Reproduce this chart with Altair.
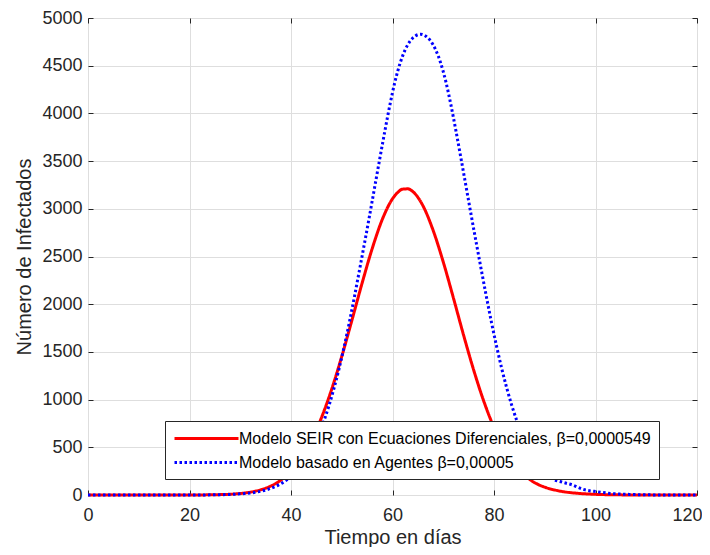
import altair as alt
import pandas as pd

series_names = [
    "Modelo SEIR con Ecuaciones Diferenciales, β=0,0000549",
    "Modelo basado en Agentes β=0,00005",
]

seir_t = [0, 10, 20, 24, 28, 30, 32, 34, 36, 38, 40, 42, 44, 46, 48, 50, 52, 54, 56, 58,
          60, 61, 62, 63, 64, 66, 68, 70, 72, 74, 76, 78, 80, 82, 84, 86, 88, 90, 92, 94,
          96, 98, 100, 104, 110, 120]
seir_v = [0, 0, 0, 2, 8, 16, 30, 54, 93, 156, 250, 385, 569, 810, 1106, 1452, 1831, 2219,
          2583, 2890, 3105, 3170, 3206, 3209, 3181, 3032, 2775, 2443, 2066, 1677, 1309, 981,
          707, 490, 325, 208, 130, 82, 52, 32, 20, 12, 7, 2, 0, 0]

abm_t = [0, 10, 20, 23.5, 27.5, 30.5, 33.5, 35.5, 37.5, 38.5, 39.5, 40.5, 41.5, 42.5, 43.5,
         44.5, 45.5, 46.5, 47.5, 48.5, 49.5, 50.5, 51.5, 52.5, 53.5, 54.5, 55.5, 56.5, 57.5,
         58.5, 59.5, 60.5, 61.5, 62.5, 63.5, 64.5, 65.5, 66.5, 67.5, 68.5, 69.5, 70.5, 71.5,
         72.5, 73.5, 74.5, 75.5, 76.5, 77.5, 78.5, 79.5, 80.5, 81.5, 82.5, 83.5, 84.5, 85.5,
         86.5, 87.5, 88.5, 89.5, 90.5, 91.5, 93.5, 95.5, 97.5, 100.5, 103.5, 107.5, 112, 120]
abm_v = [0, 0, 0, 1, 5, 14, 33, 60, 104, 134, 172, 218, 275, 345, 430, 519, 639, 779, 940,
         1124, 1331, 1561, 1811, 2079, 2359, 2644, 2934, 3231, 3527, 3817, 4092, 4335, 4527,
         4667, 4760, 4812, 4830, 4812, 4760, 4667, 4527, 4335, 4092, 3817, 3527, 3231, 2934,
         2644, 2359, 2079, 1811, 1561, 1331, 1124, 940, 779, 639, 519, 430, 345, 275, 218,
         172, 134, 104, 60, 33, 14, 5, 1, 0]

x_ticks = [0, 20, 40, 60, 80, 100, 120]
y_ticks = list(range(0, 5001, 500))

df = pd.concat([
    pd.DataFrame({"t": seir_t, "v": seir_v, "serie": series_names[0]}),
    pd.DataFrame({"t": abm_t, "v": abm_v, "serie": series_names[1]}),
])

FONT = "Liberation Sans"
INK = "#262626"

xscale = alt.Scale(domain=[0, 120], nice=False, zero=False)
yscale = alt.Scale(domain=[0, 5000], nice=False)

base = alt.Chart(df)

lines = base.mark_line(interpolate="monotone", strokeWidth=3).encode(
    x=alt.X("t:Q", scale=xscale,
            axis=alt.Axis(values=x_ticks, title="Tiempo en días", format="d",
                          orient="bottom", offset=-5, tickSize=5, labelPadding=11,
                          titlePadding=3, grid=True, domain=False, labelFlush=False,
                          labelOffset={"condition": {"test": "datum.value == 120", "value": -10},
                                       "value": 0})),
    y=alt.Y("v:Q", scale=yscale,
            axis=alt.Axis(values=y_ticks, title="Número de Infectados", format="d",
                          orient="left", offset=-5, tickSize=5, labelPadding=6,
                          titlePadding=7, grid=True, domain=False, labelFlush=False)),
    color=alt.Color("serie:N", scale=alt.Scale(domain=series_names, range=["#ff0000", "#0000ff"]),
                    sort=series_names,
                    legend=alt.Legend(title=None, orient="none", legendX=77, legendY=403,
                                      symbolType="M-4,0H4", symbolSize=256,
                                      symbolOffset=24, labelOffset=23, padding=8,
                                      rowPadding=6, symbolStrokeWidth=3,
                                      labelFontSize=16, labelFont=FONT, labelColor="#000000",
                                      strokeColor="#262626", fillColor="#ffffff",
                                      labelLimit=0)),
    strokeDash=alt.StrokeDash("serie:N",
                              scale=alt.Scale(domain=series_names, range=[[1, 0], [2.5, 2.5]]),
                              sort=series_names, legend=None),
    detail="serie:N",
)

frame_axes = base.mark_line(opacity=0).encode(
    x=alt.X("t:Q", scale=xscale,
            axis=alt.Axis(values=x_ticks, orient="top", labels=False, title=None,
                          offset=-5, tickSize=5, grid=False, domain=False)),
    y=alt.Y("v:Q", scale=yscale,
            axis=alt.Axis(values=y_ticks, orient="right", labels=False, title=None,
                          offset=-5, tickSize=5, grid=False, domain=False)),
    detail="serie:N",
)

chart = alt.layer(lines, frame_axes).resolve_axis(x="independent", y="independent").properties(
    width=609, height=477,
    background="#ffffff",
    autosize=alt.AutoSizeParams(type="none"),
    padding={"left": 80, "top": 10, "right": 5, "bottom": 52},
).configure_view(
    stroke=INK, strokeWidth=1
).configure_axis(
    labelFont=FONT, titleFont=FONT, labelFontSize=18, titleFontSize=20,
    labelColor=INK, titleColor=INK, tickColor=INK, gridColor="#dedede", gridWidth=1,
    titleFontWeight="normal", tickWidth=1,
)

chart.save("out.html", embed_options={"renderer": "svg", "actions": False})
